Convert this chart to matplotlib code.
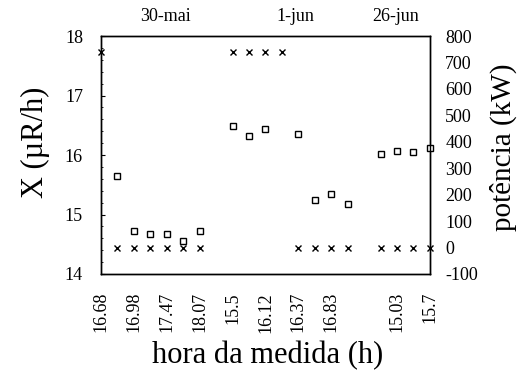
import numpy as np
import matplotlib
matplotlib.use("Agg")
import matplotlib.pyplot as plt
import matplotlib.transforms as mtransforms

plt.rcParams["font.family"] = ["Liberation Serif", "DejaVu Serif"]
plt.rcParams["axes.unicode_minus"] = False

nan = np.nan
# one category per measurement, two empty slots separate the days
slots = list(range(21))
hour_labels = ["16.68", "", "16.98", "", "17.47", "", "18.07", "", "15.5", "",
               "16.12", "", "16.37", "", "16.83", "", "", "", "15.03", "", "15.7"]
exposure = [nan, 15.64, 14.73, 14.67, 14.68, 14.55, 14.72, nan, 16.48, 16.32,
            16.43, nan, 16.35, 15.25, 15.35, 15.17, nan, 16.02, 16.07, 16.05, 16.11]
power = [740, 0, 0, 0, 0, 0, 0, nan, 740, 740, 740, 740, 0, 0, 0, 0, nan,
         0, 0, 0, 0]
days = ["30-mai", "1-jun", "26-jun"]
day_centers = [3.9, 11.8, 17.9]

fig = plt.figure(figsize=(5.22, 3.70), dpi=100)
ax = fig.add_axes([0.1935, 0.2595, 0.630, 0.643])
ax2 = ax.twinx()

ax.plot(slots, exposure, linestyle="none", marker="s", markersize=4.6,
        markerfacecolor="white", markeredgecolor="black", markeredgewidth=1.0,
        clip_on=False, zorder=3)
ax2.plot(slots, power, linestyle="none", marker="x", markersize=4.2,
         color="black", markeredgewidth=1.0, clip_on=False, zorder=3)

ax.set_xlim(0, 20)
ax.set_ylim(14, 18)
ax.set_yticks([14, 15, 16, 17, 18])
ax.set_yticks(np.arange(14, 18.01, 0.2), minor=True)
ax.tick_params(axis="y", which="major", direction="in", length=3, pad=13,
               labelsize=13)
ax.tick_params(axis="y", which="minor", direction="in", length=1.5)
ax.set_xticks(slots)
ax.set_xticklabels(hour_labels, rotation=90, fontsize=13)
ax.set_xticks([7], minor=True)
ax.tick_params(axis="x", which="major", length=0, pad=13)
ax.tick_params(axis="x", which="minor", direction="in", length=4)

ax2.set_ylim(-100, 800)
ax2.set_yticks(np.arange(-100, 801, 100))
ax2.tick_params(axis="y", length=0, pad=11, labelsize=13)

for a in (ax, ax2):
    for s in a.spines.values():
        s.set_linewidth(1.0)

fig.text(0.067, 0.616, "X (\u00b5R/h)", rotation=90, ha="center", va="center",
         fontsize=22)
fig.text(0.964, 0.601, "pot\u00eancia (kW)", rotation=90, ha="center",
         va="center", fontsize=21)
fig.text(0.513, 0.038, "hora da medida (h)", ha="center", va="center",
         fontsize=22)

trans = mtransforms.blended_transform_factory(ax.transData, ax.transAxes)
for d, c in zip(days, day_centers):
    ax.text(c, 1.084, d, transform=trans, ha="center", va="center", fontsize=13)

fig.savefig("out.png", dpi=100)
